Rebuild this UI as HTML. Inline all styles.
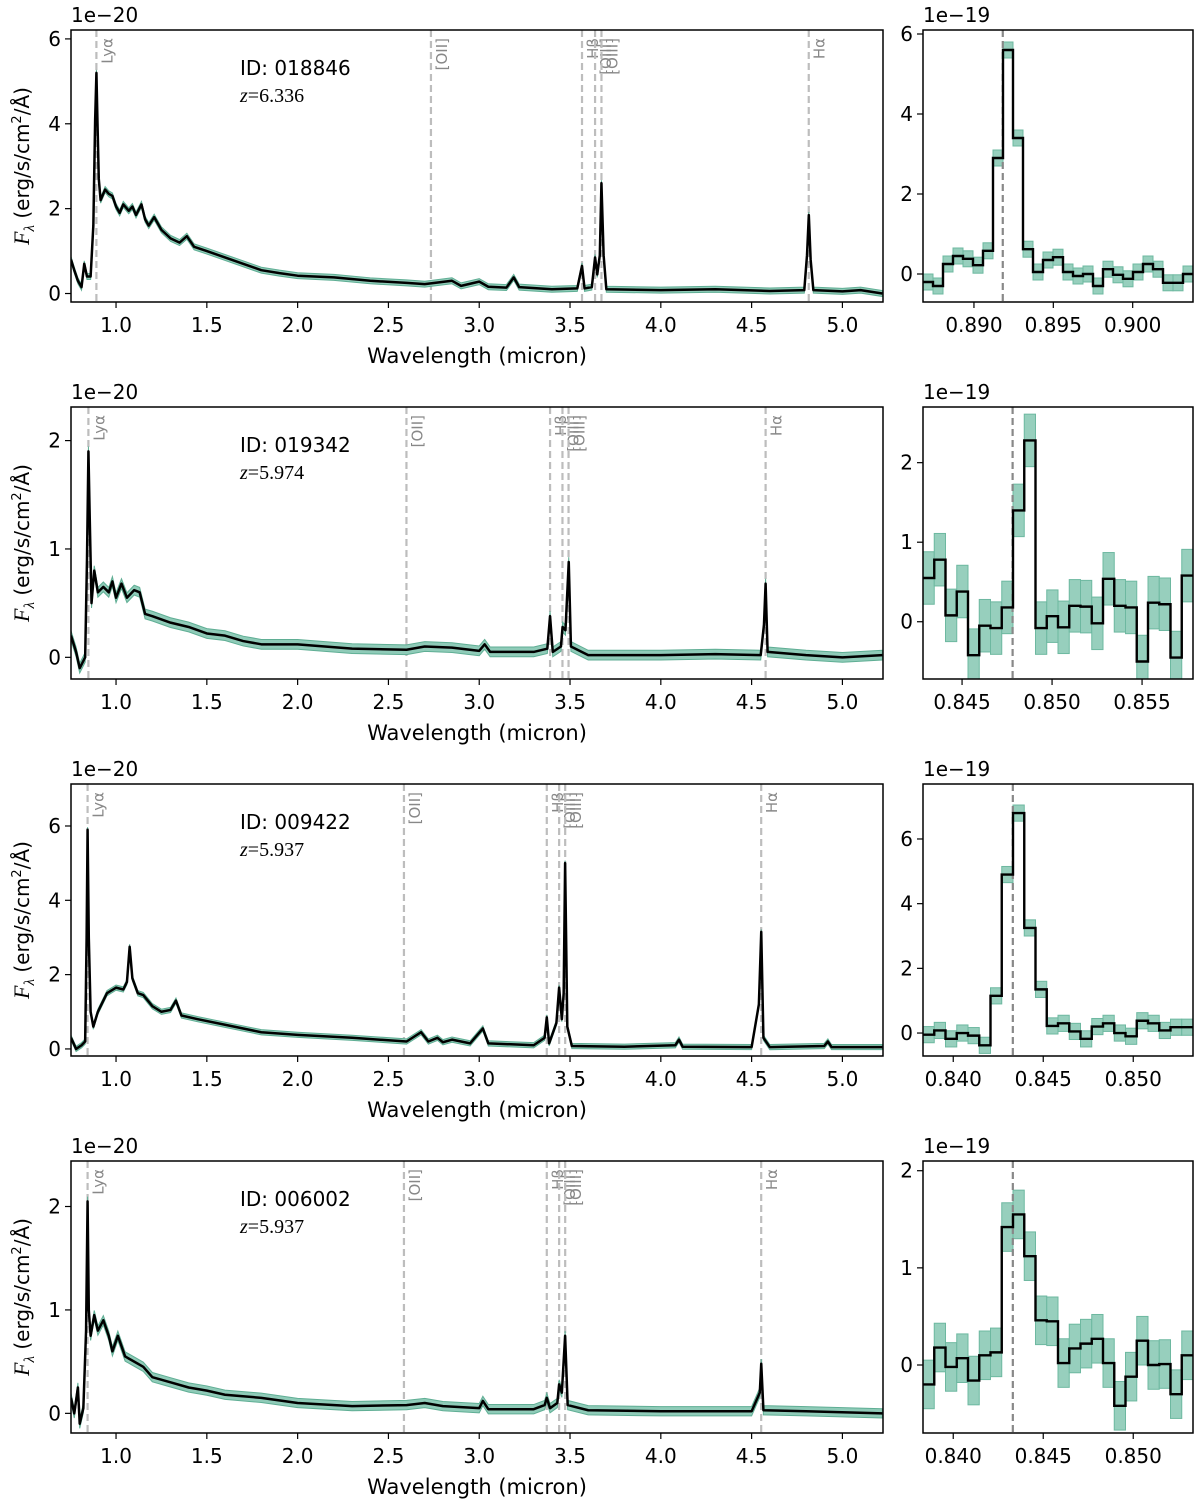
<!DOCTYPE html>
<html><head><meta charset="utf-8"><style>
body{margin:0;background:#fff}
svg{display:block;font-family:"DejaVu Sans","Liberation Sans",sans-serif}
</style></head><body>
<svg id="fig" width="1200" height="1507" viewBox="0 0 1200 1507"></svg>
<script>
// ---------- data ----------
const ids = ["018846","019342","009422","006002"];
const zs = [6.336, 5.974, 5.937, 5.937];
const restLines = [0.121567, 0.3727, 0.4861, 0.4959, 0.5007, 0.6563];
const lineLabels = ["Lyα","[OII]","Hβ","[OIII]","[OIII]","Hα"];
const leftYTicks = [[0,2,4,6],[0,1,2],[0,2,4,6],[0,1,2]];
const leftYRange = [[-0.2,6.21],[-0.2,2.31],[-0.19,7.13],[-0.19,2.44]];
const xTicks = [1.0,1.5,2.0,2.5,3.0,3.5,4.0,4.5,5.0];
const specErr = [0.07,0.045,0.07,0.045];
const spec1W = [0.752,0.77,0.79,0.81,0.825,0.84,0.86,0.875,0.885,0.892,0.898,0.905,0.915,0.94,0.96,0.98,1.0,1.02,1.04,1.07,1.09,1.11,1.14,1.16,1.18,1.21,1.25,1.3,1.35,1.39,1.43,1.5,1.6,1.7,1.8,1.9,2.0,2.2,2.4,2.6,2.7,2.85,2.9,3.0,3.05,3.15,3.19,3.22,3.4,3.54,3.566,3.58,3.62,3.638,3.65,3.664,3.673,3.685,3.70,4.0,4.3,4.6,4.79,4.805,4.815,4.825,4.84,5.0,5.1,5.22];
const spec1F = [0.8,0.55,0.3,0.15,0.7,0.4,0.4,1.6,4.1,5.2,4.0,2.7,2.2,2.45,2.35,2.3,2.05,1.9,2.1,1.95,2.05,1.85,2.1,1.75,1.6,1.8,1.5,1.3,1.2,1.35,1.1,1.0,0.85,0.7,0.55,0.48,0.42,0.38,0.3,0.25,0.22,0.3,0.18,0.28,0.16,0.14,0.38,0.15,0.1,0.12,0.65,0.12,0.15,0.85,0.45,0.9,2.6,0.9,0.1,0.08,0.1,0.06,0.08,0.9,1.85,0.8,0.08,0.05,0.08,0.0];
const spec2W = [0.752,0.78,0.80,0.83,0.84,0.848,0.855,0.865,0.88,0.9,0.93,0.96,0.98,1.0,1.03,1.06,1.1,1.13,1.16,1.2,1.25,1.3,1.4,1.5,1.6,1.7,1.8,2.0,2.3,2.6,2.7,2.85,3.0,3.03,3.06,3.3,3.375,3.39,3.405,3.45,3.459,3.475,3.493,3.505,3.6,4.0,4.3,4.55,4.568,4.577,4.588,4.8,5.0,5.22];
const spec2F = [0.2,0.05,-0.1,0.0,0.9,1.9,1.3,0.5,0.8,0.6,0.65,0.6,0.7,0.55,0.68,0.55,0.62,0.6,0.4,0.38,0.35,0.32,0.28,0.22,0.2,0.15,0.12,0.12,0.08,0.07,0.1,0.09,0.06,0.12,0.05,0.05,0.08,0.38,0.05,0.1,0.28,0.25,0.88,0.1,0.02,0.02,0.03,0.02,0.3,0.68,0.05,0.02,0.0,0.02];
const spec3W = [0.752,0.78,0.81,0.83,0.838,0.8433,0.85,0.86,0.875,0.9,0.95,1.0,1.04,1.06,1.075,1.09,1.12,1.15,1.2,1.25,1.3,1.33,1.36,1.45,1.6,1.8,2.0,2.3,2.6,2.68,2.72,2.77,2.8,2.85,2.95,3.02,3.05,3.3,3.36,3.372,3.385,3.425,3.44,3.455,3.465,3.473,3.485,3.51,3.8,4.08,4.1,4.12,4.5,4.54,4.553,4.565,4.6,4.9,4.92,4.94,5.22];
const spec3F = [0.3,0.0,0.1,0.2,3.0,5.9,3.0,1.0,0.6,1.0,1.5,1.65,1.6,1.8,2.75,1.9,1.5,1.45,1.15,1.0,1.05,1.3,0.9,0.8,0.65,0.45,0.38,0.3,0.2,0.45,0.2,0.3,0.18,0.25,0.15,0.55,0.15,0.1,0.3,0.85,0.15,0.7,1.65,0.8,1.5,5.0,0.6,0.08,0.06,0.1,0.25,0.06,0.05,1.2,3.15,0.3,0.05,0.08,0.2,0.05,0.05];
const spec4W = [0.752,0.77,0.79,0.80,0.82,0.835,0.8433,0.85,0.86,0.88,0.9,0.93,0.96,0.98,1.01,1.05,1.1,1.15,1.2,1.3,1.4,1.5,1.6,1.8,2.0,2.3,2.6,2.7,2.8,3.0,3.02,3.05,3.3,3.36,3.372,3.39,3.43,3.44,3.455,3.473,3.487,3.6,4.0,4.5,4.545,4.553,4.565,4.8,5.22];
const spec4F = [0.15,0.0,0.25,-0.1,0.05,0.8,2.05,1.0,0.75,0.95,0.8,0.9,0.75,0.6,0.75,0.55,0.5,0.45,0.35,0.3,0.25,0.22,0.18,0.15,0.1,0.07,0.08,0.1,0.07,0.05,0.12,0.04,0.04,0.08,0.15,0.05,0.1,0.28,0.2,0.75,0.08,0.03,0.02,0.02,0.2,0.48,0.03,0.02,0.0];
const specW = [spec1W,spec2W,spec3W,spec4W];
const specF = [spec1F,spec2F,spec3F,spec4F];
// zoom panels
const zoomXRange = [[0.88679,0.9038],[0.84283,0.85783],[0.83832,0.85332],[0.83832,0.85332]];
const zoomYRange = [[-0.7,6.1],[-0.72,2.70],[-0.71,7.70],[-0.70,2.10]];
const zoomXTicks = [[0.890,0.895,0.900],[0.845,0.850,0.855],[0.840,0.845,0.850],[0.840,0.845,0.850]];
const zoomYTicks = [[0,2,4,6],[0,1,2],[0,2,4,6],[0,1,2]];
const zoom1V = [-0.2,-0.3,0.25,0.45,0.38,0.22,0.58,2.9,5.6,3.4,0.62,0.05,0.35,0.42,0.05,-0.05,0.0,-0.3,0.12,-0.02,-0.12,0.05,0.25,0.12,-0.22,-0.22,0.0];
const zoom2V = [0.55,0.78,0.08,0.38,-0.42,-0.05,-0.08,0.18,1.4,2.28,-0.08,0.07,-0.07,0.2,0.19,-0.02,0.54,0.2,0.18,-0.5,0.24,0.22,-0.45,0.58];
const zoom3V = [-0.05,0.08,-0.18,0.0,-0.08,-0.38,1.15,4.9,6.8,3.25,1.35,0.22,0.3,0.05,-0.18,0.2,0.3,0.0,-0.1,0.38,0.3,0.08,0.18,0.18];
const zoom4V = [-0.2,0.18,-0.02,0.07,-0.16,0.1,0.13,1.42,1.55,1.12,0.46,0.45,0.02,0.17,0.22,0.27,0.02,-0.42,-0.12,0.25,0.0,0.01,-0.3,0.1];
const zoomV = [zoom1V,zoom2V,zoom3V,zoom4V];
const zoomErr = [0.2,0.33,0.25,0.25];

// ---------- drawing ----------
const NS="http://www.w3.org/2000/svg";
const svg=document.getElementById('fig');
function mk(tag,attrs,parent){const e=document.createElementNS(NS,tag);for(const k in attrs)e.setAttribute(k,attrs[k]);(parent||svg).appendChild(e);return e;}
const L={x0:71,x1:883}, R={x0:923,x1:1193};
const XMIN=0.752, XMAX=5.2235;
function fmt(v,d){return v.toFixed(d);}

for(let p=0;p<4;p++){
  const top=30+377*p, bot=top+272;
  const g=mk('g',{});
  
  
  const xs=v=>L.x0+(v-XMIN)/(XMAX-XMIN)*(L.x1-L.x0);
  const yr=leftYRange[p];
  const ys=v=>bot-(v-yr[0])/(yr[1]-yr[0])*(bot-top);
  const cp=mk('clipPath',{id:'cl'+p},g); mk('rect',{x:L.x0,y:top,width:L.x1-L.x0,height:272},cp);
  restLines.forEach((r,i)=>{
    const w=r*(1+zs[p]); const x=xs(w);
    const ln=mk('line',{x1:x,x2:x,y1:top,y2:bot,stroke:'#bdbdbd','stroke-width':2.2,'stroke-dasharray':'7,4'},g);
    
    
    const t=mk('text',{transform:`translate(${x+16},${top+8}) rotate(-90)`,'text-anchor':'end','font-size':15,fill:'#888'},g);
    t.textContent=lineLabels[i];
    
    
  });
  const W=specW[p],F=specF[p],e=specErr[p];
  let up=W.map((w,i)=>xs(w)+','+ys(F[i]+e)).join(' ');
  let dn=W.map((w,i)=>xs(w)+','+ys(F[i]-e)).reverse().join(' ');
  const band=mk('polygon',{points:up+' '+dn,fill:'#8fcbb8',stroke:'#5fae94','stroke-width':1,'clip-path':`url(#cl${p})`},g);
  
  
  const sp=mk('polyline',{points:W.map((w,i)=>xs(w)+','+ys(F[i])).join(' '),fill:'none',stroke:'#000','stroke-width':2.5,'stroke-linejoin':'round','clip-path':`url(#cl${p})`},g);
  
  
  const fr=mk('rect',{x:L.x0,y:top,width:L.x1-L.x0,height:272,fill:'none',stroke:'#000','stroke-width':1.5},g);
  
  
  xTicks.forEach(t=>{const x=xs(t);mk('line',{x1:x,x2:x,y1:bot,y2:bot+6,stroke:'#000','stroke-width':1.2},g);
    const tx=mk('text',{x:x,y:bot+30,'text-anchor':'middle','font-size':20},g);tx.textContent=fmt(t,1);
    
    });
  leftYTicks[p].forEach(t=>{const y=ys(t);mk('line',{x1:L.x0-6,x2:L.x0,y1:y,y2:y,stroke:'#000','stroke-width':1.2},g);
    const ty=mk('text',{x:L.x0-10,y:y+7,'text-anchor':'end','font-size':20},g);ty.textContent=t;
    
    });
  const ex=mk('text',{x:L.x0,y:top-8,'font-size':20},g);ex.textContent='1e−20';
  
  
  const xl=mk('text',{x:477,y:bot+61,'text-anchor':'middle','font-size':21},g);xl.textContent='Wavelength (micron)';
  
  
  const yl=mk('text',{transform:`translate(29,${top+136}) rotate(-90)`,'text-anchor':'middle','font-size':20},g);
  yl.innerHTML='<tspan font-family="Liberation Serif,serif" font-style="italic" font-size="22">F</tspan><tspan font-family="Liberation Serif,serif" font-style="italic" font-size="15" dy="5">λ</tspan><tspan dy="-5"> (erg/s/cm</tspan><tspan font-size="13" dy="-8">2</tspan><tspan dy="8">/Å)</tspan>';
  
  
  const idt=mk('text',{x:240,y:top+45,'font-size':20},g);idt.textContent='ID: '+ids[p];
  
  
  const zt=mk('text',{x:240,y:top+72,'font-size':20,'font-family':'Liberation Serif,serif'},g);
  zt.innerHTML='<tspan font-style="italic">z</tspan>=' + zs[p].toFixed(3);
  
  

  // ---- zoom panel ----
  const gz=mk('g',{});
  
  
  const zx=zoomXRange[p], zy=zoomYRange[p];
  const xz=v=>R.x0+(v-zx[0])/(zx[1]-zx[0])*(R.x1-R.x0);
  const yz=v=>bot-(v-zy[0])/(zy[1]-zy[0])*(bot-top);
  const cz=mk('clipPath',{id:'cz'+p},gz); mk('rect',{x:R.x0,y:top,width:R.x1-R.x0,height:272},cz);
  const V=zoomV[p], n=V.length, bw=(zx[1]-zx[0])/n, ez=zoomErr[p];
  const gb=mk('g',{'clip-path':`url(#cz${p})`},gz);
  V.forEach((v,i)=>{const a=xz(zx[0]+i*bw),b=xz(zx[0]+(i+1)*bw);
    const r=mk('rect',{x:a,y:yz(v+ez),width:b-a,height:yz(v-ez)-yz(v+ez),fill:'#97cfbd',stroke:'#6db8a0','stroke-width':1},gb);
    
    });
  let d='';
  V.forEach((v,i)=>{const a=xz(zx[0]+i*bw),b=xz(zx[0]+(i+1)*bw);d+=(i?'L':'M')+a+','+yz(v)+'L'+b+','+yz(v);});
  const lz=xz(restLines[0]*(1+zs[p]));
  const dl=mk('line',{x1:lz,x2:lz,y1:top,y2:bot,stroke:'#888','stroke-width':2.2,'stroke-dasharray':'7,4'},gz);
  
  
  const st=mk('path',{d:d,fill:'none',stroke:'#000','stroke-width':2.4,'clip-path':`url(#cz${p})`},gz);
  
  
  const fz=mk('rect',{x:R.x0,y:top,width:R.x1-R.x0,height:272,fill:'none',stroke:'#000','stroke-width':1.5},gz);
  
  
  zoomXTicks[p].forEach(t=>{const x=xz(t);mk('line',{x1:x,x2:x,y1:bot,y2:bot+6,stroke:'#000','stroke-width':1.2},gz);
    const tx=mk('text',{x:x,y:bot+30,'text-anchor':'middle','font-size':20},gz);tx.textContent=fmt(t,3);
    
    });
  zoomYTicks[p].forEach(t=>{const y=yz(t);mk('line',{x1:R.x0-6,x2:R.x0,y1:y,y2:y,stroke:'#000','stroke-width':1.2},gz);
    const ty=mk('text',{x:R.x0-10,y:y+7,'text-anchor':'end','font-size':20},gz);ty.textContent=t;
    
    });
  const ez2=mk('text',{x:R.x0,y:top-8,'font-size':20},gz);ez2.textContent='1e−19';
  
  
}
</script>
</body></html>
